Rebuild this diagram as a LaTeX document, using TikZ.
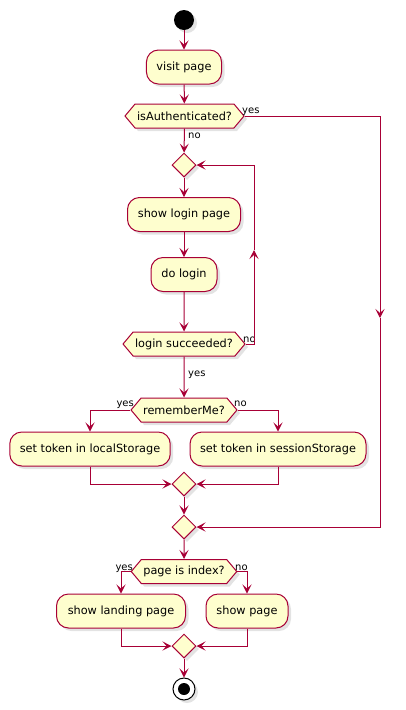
\documentclass[tikz,border=0pt]{standalone}
\usepackage{fontspec}
\setmainfont{DejaVu Sans}
\usetikzlibrary{arrows.meta,shapes.geometric,shapes.symbols,shadows}
\definecolor{pfill}{HTML}{FEFECE}
\definecolor{pline}{HTML}{A80036}
\tikzset{
  shd/.style={drop shadow={shadow xshift=3pt,shadow yshift=-3pt,opacity=0.22}},
  act/.style={draw=pline,fill=pfill,line width=1pt,rounded corners=12pt,minimum height=34pt,
    inner xsep=10pt,font=\fontsize{11.3}{13}\selectfont,shd},
  cond/.style={draw=pline,fill=pfill,line width=1pt,shape=signal,signal to=east and west,
    signal pointer angle=100,minimum height=24pt,inner xsep=2pt,inner ysep=2pt,
    font=\fontsize{11.3}{13}\selectfont,shd},
  merge/.style={diamond,draw=pline,fill=pfill,line width=1pt,minimum width=24pt,
    minimum height=24pt,inner sep=0pt,shd},
  flow/.style={draw=pline,line width=1pt,-{Stealth[length=9pt,width=9pt,inset=4pt]}},
  lbl/.style={font=\fontsize{10}{12}\selectfont,inner sep=0pt},
}
\begin{document}
\begin{tikzpicture}[x=1pt,y=-1pt]
\useasboundingbox (0,0) rectangle (405,710);
% nodes
\node[circle,fill=black,minimum size=20pt,inner sep=0pt,shd] (start) at (184,20) {};
\node[act,minimum width=75pt] (visit) at (184,67) {visit page};
\node[cond] (isAuth) at (184.5,116) {isAuthenticated?};
\node[merge] (loop) at (184,165) {};
\node[act,minimum width=113pt] (showlogin) at (184,214.5) {show login page};
\node[act,minimum width=66pt] (dologin) at (184,274.5) {do login};
\node[cond] (login) at (184,344) {login succeeded?};
\node[cond] (remember) at (184,410) {rememberMe?};
\node[act,minimum width=160pt] (local) at (90,449) {set token in localStorage};
\node[act,minimum width=176pt] (session) at (278,449) {set token in sessionStorage};
\node[merge] (m1) at (184,484) {};
\node[merge] (m2) at (184,527) {};
\node[cond] (pidx) at (184,571.5) {page is index?};
\node[act,minimum width=129pt] (landing) at (121,611) {show landing page};
\node[act,minimum width=82pt] (showpage) at (247,611) {show page};
\node[merge] (m3) at (184,646) {};
\node[circle,draw=black,fill=white,line width=1pt,minimum size=22pt,inner sep=0pt,shd] (end) at (184,689) {};
\node[circle,fill=black,minimum size=12pt,inner sep=0pt] (endin) at (end.center) {};
% labels
\node[lbl,anchor=base west] (l1) at (242,113) {yes};
\node[lbl,anchor=base west] (l2) at (188,138) {no};
\node[lbl,anchor=base west] (l3) at (243,342) {no};
\node[lbl,anchor=base west] (l4) at (188,376) {yes};
\node[lbl,anchor=base east] (l5) at (134,406) {yes};
\node[lbl,anchor=base west] (l6) at (234,406) {no};
\node[lbl,anchor=base east] (l7) at (133,570) {yes};
\node[lbl,anchor=base west] (l8) at (235,570) {no};
% connectors
\coordinate (rmid) at (380,318);
\coordinate (lmid) at (254,250);
\draw[flow] (start) -- (visit);
\draw[flow] (visit) -- (isAuth);
\draw[flow] (isAuth) -- (loop);
\draw[flow] (isAuth.east) -| (rmid);
\draw[flow] (rmid) |- (m2.east);
\draw[flow] (loop) -- (showlogin);
\draw[flow] (showlogin) -- (dologin);
\draw[flow] (dologin) -- (login);
\draw[flow] (login.east) -| (lmid);
\draw[flow] (lmid) |- (loop.east);
\draw[flow] (login) -- (remember);
\draw[flow] (remember.west) -| (local);
\draw[flow] (remember.east) -| (session);
\draw[flow] (local) |- (m1.west);
\draw[flow] (session) |- (m1.east);
\draw[flow] (m1) -- (m2);
\draw[flow] (m2) -- (pidx);
\draw[flow] (pidx.west) -| (landing);
\draw[flow] (pidx.east) -| (showpage);
\draw[flow] (landing) |- (m3.west);
\draw[flow] (showpage) |- (m3.east);
\draw[flow] (m3) -- (end);
\end{tikzpicture}
\end{document}
